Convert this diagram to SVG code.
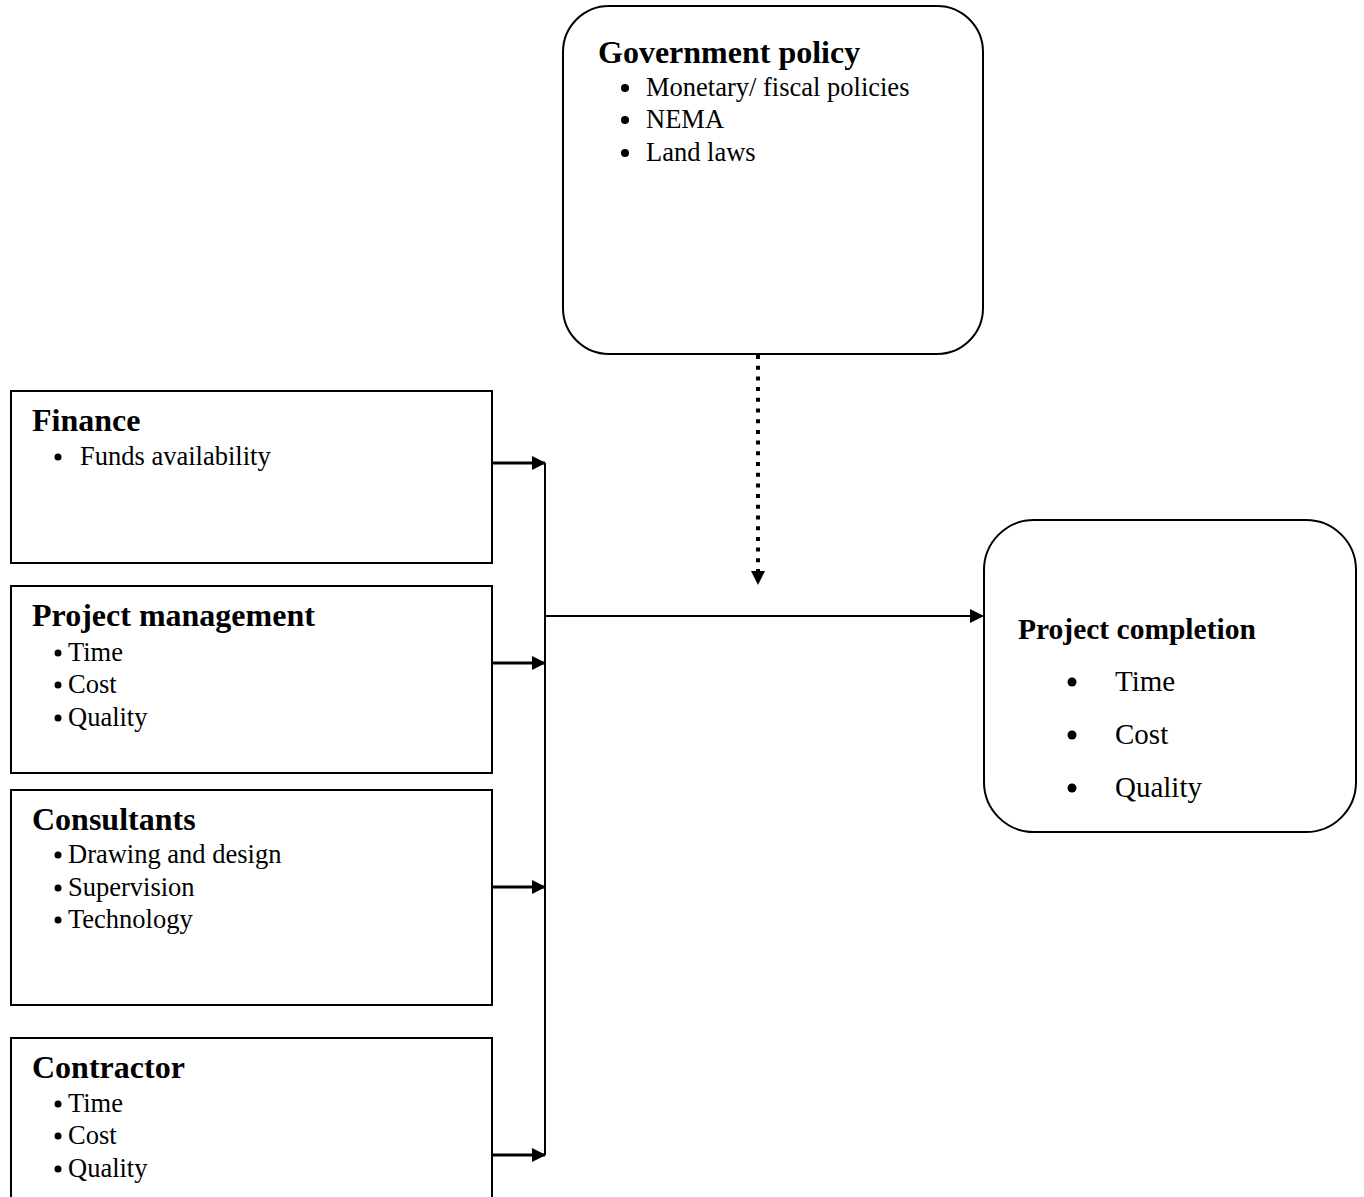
<svg xmlns="http://www.w3.org/2000/svg" width="1364" height="1197" viewBox="0 0 1364 1197">
<style>
.box{fill:#fff;stroke:#000;stroke-width:2}
.t{font-family:"Liberation Serif","Times New Roman",serif;font-weight:bold;font-size:32px;fill:#000}
.i{font-family:"Liberation Serif","Times New Roman",serif;font-size:26.5px;fill:#000}
.pt{font-size:29.5px}
.pi{font-size:29px}
.ln{stroke:#000;stroke-width:2;fill:none}
</style>
<defs>
<marker id="ah2" markerWidth="14" markerHeight="14" refX="13" refY="7" orient="auto" markerUnits="userSpaceOnUse" viewBox="0 0 14 14">
<path d="M0,0 L14,7 L0,14 z" fill="#000"/>
</marker>
</defs>
<g id="gov">
<rect class="box" x="563" y="6" width="420" height="348" rx="46"/>
<text class="t" x="598" y="63">Government policy</text>
<circle cx="625" cy="88" r="4"/><text class="i" x="646" y="96">Monetary/ fiscal policies</text>
<circle cx="625" cy="120" r="4"/><text class="i" x="646" y="128">NEMA</text>
<circle cx="625" cy="153" r="4"/><text class="i" x="646" y="161">Land laws</text>
</g>
<g id="finance">
<rect class="box" x="11" y="391" width="481" height="172"/>
<text class="t" x="32" y="431">Finance</text>
<circle cx="58" cy="457" r="3.5"/><text class="i" x="80" y="465">Funds availability</text>
</g>
<g id="pm">
<rect class="box" x="11" y="586" width="481" height="187"/>
<text class="t" x="32" y="626">Project management</text>
<circle cx="58" cy="653" r="3.5"/><text class="i" x="68" y="661">Time</text>
<circle cx="58" cy="685" r="3.5"/><text class="i" x="68" y="693">Cost</text>
<circle cx="58" cy="718" r="3.5"/><text class="i" x="68" y="726">Quality</text>
</g>
<g id="consultants">
<rect class="box" x="11" y="790" width="481" height="215"/>
<text class="t" x="32" y="830">Consultants</text>
<circle cx="58" cy="855" r="3.5"/><text class="i" x="68" y="863">Drawing and design</text>
<circle cx="58" cy="888" r="3.5"/><text class="i" x="68" y="896">Supervision</text>
<circle cx="58" cy="920" r="3.5"/><text class="i" x="68" y="928">Technology</text>
</g>
<g id="contractor">
<path class="ln" d="M11,1200 V1038 H492 V1200"/>
<text class="t" x="32" y="1078">Contractor</text>
<circle cx="58" cy="1104" r="3.5"/><text class="i" x="68" y="1112">Time</text>
<circle cx="58" cy="1136" r="3.5"/><text class="i" x="68" y="1144">Cost</text>
<circle cx="58" cy="1169" r="3.5"/><text class="i" x="68" y="1177">Quality</text>
</g>
<g id="completion">
<rect class="box" x="984" y="520" width="372" height="312" rx="50"/>
<text class="t pt" x="1018" y="639">Project completion</text>
<circle cx="1072" cy="682" r="4.5"/><text class="i pi" x="1115" y="691">Time</text>
<circle cx="1072" cy="735" r="4.5"/><text class="i pi" x="1115" y="744">Cost</text>
<circle cx="1072" cy="788" r="4.5"/><text class="i pi" x="1115" y="797">Quality</text>
</g>
<g id="connectors">
<line class="ln" x1="545" y1="463" x2="545" y2="1155"/>
<line class="ln" x1="492" y1="463" x2="545" y2="463" style="stroke-width:3" marker-end="url(#ah2)"/>
<line class="ln" x1="492" y1="663" x2="545" y2="663" style="stroke-width:3" marker-end="url(#ah2)"/>
<line class="ln" x1="492" y1="887" x2="545" y2="887" style="stroke-width:3" marker-end="url(#ah2)"/>
<line class="ln" x1="492" y1="1155" x2="545" y2="1155" style="stroke-width:3" marker-end="url(#ah2)"/>
<line class="ln" x1="545" y1="616" x2="983" y2="616" marker-end="url(#ah2)"/>
<line x1="758" y1="355" x2="758" y2="572" stroke="#000" stroke-width="4" stroke-dasharray="4,6.7"/>
<path d="M751,571 L765,571 L758,585 z" fill="#000"/>
</g>
</svg>
